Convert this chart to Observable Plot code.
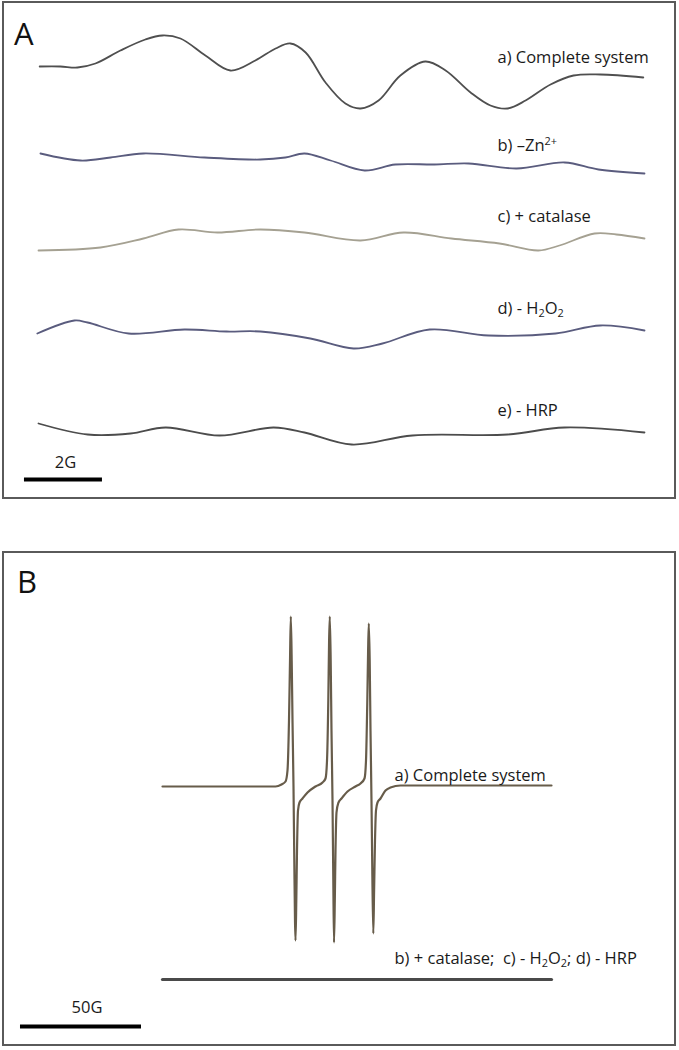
<!DOCTYPE html>
<html><head><meta charset="utf-8">
<script src="https://cdn.jsdelivr.net/npm/d3@7"></script>
<script src="https://cdn.jsdelivr.net/npm/@observablehq/plot@0.6"></script>
<style>
html,body{margin:0;padding:0;background:#fff;}
#page{position:relative;width:679px;height:1050px;}
.panel{position:absolute;left:2px;width:674px;box-sizing:border-box;border:2px solid #5a5a5a;background:#fff;}
.panel svg{display:block;}
</style></head>
<body>
<div id="page">
  <div id="pa" class="panel" style="top:1px;height:498px"></div>
  <div id="pb" class="panel" style="top:551px;height:495px"></div>
</div>
<script>
// ================= DATA =================
// Panel A: EPR traces, field offset (G) and signal (a.u.)
const fieldA_a  = [0.03,0.56,1.0,1.46,2.1,2.74,3.18,3.64,4.28,4.92,5.56,6.08,6.46,6.85,7.36,7.87,8.26,8.72,9.28,9.92,10.44,11.08,11.59,12.03,12.49,13.13,13.72,14.41,15.51];
const signalA_a = [4,4,3,7,20,31,35,32,15,0,10,22,27,18,-12,-33,-38,-30,-5,9,0,-22,-35,-38,-30,-14,-5,-4,-7];
const fieldA_b  = [0.05,1.08,1.85,2.69,4.26,5.69,6.33,6.82,7.49,8.36,9.15,10.15,11.03,12.26,13.49,14.36,15.54];
const signalA_b = [8,1,4,8,4,2,4,8,1,-9,-3,-3,-2,-7,-1,-8,-12];
const fieldA_c  = [0,1.59,2.69,3.59,4.59,5.69,6.82,8.26,9.36,10.59,11.82,12.82,13.36,14.26,14.82,15.54];
const signalA_c = [2,5,14,23,20,23,20,12,20,14,9,2,7,19,18,14];
const fieldA_d  = [-0.03,0.92,1.26,2.31,3.74,4.82,5.69,6.97,8.08,8.82,10.03,11.54,13.26,14.41,15.54];
const signalA_d = [10,23,21,10,14,12,12,5,-5,0,14,8,10,18,13];
const fieldA_e  = [0,1.26,2.36,3.26,4.64,6.03,6.82,8.03,9.59,12.03,13.49,15.54];
const signalA_e = [11,0,1,7,-1,7,2,-10,-1,0,7,2];
const labelsA = ["a) Complete system", "b) \u2013Zn\u00B2\u207A", "c) + catalase", "d) - H\u2082O\u2082", "e) - HRP"];
const scaleBarA = {length: 2, label: "2G"};

// Panel B: wide-scan spectrum, field offset (G) and signal (a.u.)
const fieldB_a  = [0,46.69,49.17,50.83,51.65,52.27,52.69,53.02,53.39,53.72,54.13,54.46,54.75,54.96,55.29,55.58,55.99,56.61,57.85,59.92,63.22,66.12,67.36,67.98,68.51,68.84,69.13,69.50,69.83,70.25,70.58,70.87,71.20,71.49,71.90,72.73,73.97,76.45,79.75,81.82,83.47,84.09,84.63,84.96,85.25,85.62,85.95,86.36,86.69,87.11,87.44,87.81,88.22,88.84,90.08,92.15,94.21,98.35,160.74];
const signalB_a = [0,0,2,5,16,66,126,170,126,66,0,-74,-134,-154,-114,-64,-24,-16,-12,-6,0,4,8,26,86,146,170,126,56,-14,-94,-156,-114,-64,-26,-16,-12,-5,0,3,8,26,86,136,163,126,56,-14,-84,-147,-104,-54,-24,-16,-12,-4,-1,1,1];
const fieldB_b  = [0,160.74];
const signalB_b = [0,0];
const labelsB = ["a) Complete system", "b) + catalase;\u00A0 c) - H\u2082O\u2082;\u00A0d) - HRP"];
const scaleBarB = {length: 50, label: "50G"};

// ================= STYLE / LAYOUT =================
const FONT = "'Open Sans', 'Noto Sans', sans-serif";
const FS = 16.5;
const colorsA = ["#4f4f4f", "#5a5c7e", "#a5a192", "#5a5c7e", "#4c4c4c"];
const colorsB = ["#675c4a", "#4a4a4a"];
const stepA = 91, stepB = 193;

function richify(svg, fs) {
  const map = {"\u2082": ["sub","2"], "\u00B2": ["sup","2"], "\u207A": ["sup","+"]};
  svg.querySelectorAll("text").forEach(t => {
    const s = t.textContent;
    if (![...s].some(c => map[c])) return;
    if (t.querySelector("tspan")) return;
    t.textContent = "";
    t.style.whiteSpace = "pre";
    let shift = 0, run = "", mode = "base";
    const flush = () => {
      if (!run) return;
      const ts = document.createElementNS("http://www.w3.org/2000/svg", "tspan");
      const target = mode === "sub" ? 0.24 * fs : mode === "sup" ? -0.36 * fs : 0;
      const dy = target - shift;
      if (dy) ts.setAttribute("dy", dy);
      if (mode !== "base") ts.setAttribute("font-size", 0.66 * fs);
      shift = target;
      ts.textContent = run;
      t.appendChild(ts);
      run = "";
    };
    for (const ch of s) {
      const m = map[ch] ? map[ch][0] : "base";
      const c = map[ch] ? map[ch][1] : ch;
      if (m !== mode) { flush(); mode = m; }
      run += c;
    }
    flush();
  });
}

function addLetter(svg, letter, x, y) {
  d3.select(svg).append("text").attr("x", x).attr("y", y)
    .attr("text-anchor", "start")
    .attr("font-family", FONT).attr("font-size", 31).attr("fill", "#111").text(letter);
}

// ================= PANEL A =================
{
  const fields = [fieldA_a, fieldA_b, fieldA_c, fieldA_d, fieldA_e];
  const signals = [signalA_a, signalA_b, signalA_c, signalA_d, signalA_e];
  const rows = [];
  const labelRows = [];
  const labelField = 11.77;
  fields.forEach((f, i) => {
    const off = -i * stepA;
    f.forEach((g, j) => rows.push({series: labelsA[i], g, v: signals[i][j] + off}));
    const right = signals[i].filter((v, j) => f[j] >= labelField);
    labelRows.push({label: labelsA[i], g: labelField, v: d3.max(right) + off + 12});
  });
  const barStart = -0.36;
  const bar = [{x1: barStart, x2: barStart + scaleBarA.length, v: -409, label: scaleBarA.label}];

  const svg = Plot.plot({
    width: 670, height: 494,
    marginLeft: 34, marginRight: 30, marginTop: 0, marginBottom: 0,
    x: {domain: [0, 15.54], axis: null},
    y: {domain: [-427, 67], axis: null},
    color: {type: "ordinal", domain: labelsA, range: colorsA},
    marks: [
      Plot.line(rows, {x: "g", y: "v", z: "series", stroke: "series", strokeWidth: 1.8, curve: "catmull-rom"}),
      Plot.text(labelRows, {x: "g", y: "v", text: "label", textAnchor: "start", lineAnchor: "bottom",
        fontSize: FS, fontFamily: FONT, fill: "#1a1a1a"}),
      Plot.ruleY(bar, {y: "v", x1: "x1", x2: "x2", stroke: "#000", strokeWidth: 4}),
      Plot.text(bar, {x: d => (d.x1 + d.x2) / 2, y: "v", text: "label", dy: -12, dx: 2, lineAnchor: "bottom",
        fontSize: FS, fontFamily: FONT, fill: "#1a1a1a"})
    ]
  });
  richify(svg, FS);
  addLetter(svg, "A", 10, 42);
  document.getElementById("pa").appendChild(svg);
}

// ================= PANEL B =================
{
  const fields = [fieldB_a, fieldB_b];
  const signals = [signalB_a, signalB_b];
  const rows = [];
  fields.forEach((f, i) => f.forEach((g, j) => rows.push({series: labelsB[i], g, v: signals[i][j] - i * stepB})));
  const labelField = 95.87;
  const barStart = -58.68;
  const bar = [{x1: barStart, x2: barStart + scaleBarB.length, v: -240, label: scaleBarB.label}];

  const svg = Plot.plot({
    width: 670, height: 491,
    marginLeft: 158, marginRight: 123, marginTop: 0, marginBottom: 0,
    x: {domain: [0, 160.74], axis: null},
    y: {domain: [-258, 233], axis: null},
    color: {type: "ordinal", domain: labelsB, range: colorsB},
    marks: [
      Plot.line(rows.filter(d => d.series === labelsB[0]), {x: "g", y: "v", stroke: "series", strokeWidth: 2.2, curve: "monotone-x"}),
      Plot.line(rows.filter(d => d.series === labelsB[1]), {x: "g", y: "v", stroke: "series", strokeWidth: 3.2}),
      Plot.text([{label: labelsB[0], g: labelField, v: 0}], {x: "g", y: "v", text: "label", dy: -6,
        textAnchor: "start", lineAnchor: "bottom", fontSize: FS, fontFamily: FONT, fill: "#1a1a1a"}),
      Plot.text([{label: labelsB[1], g: labelField, v: -stepB}], {x: "g", y: "v", text: "label", dy: -16,
        textAnchor: "start", lineAnchor: "bottom", fontSize: FS, fontFamily: FONT, fill: "#1a1a1a"}),
      Plot.ruleY(bar, {y: "v", x1: "x1", x2: "x2", stroke: "#000", strokeWidth: 4}),
      Plot.text(bar, {x: d => (d.x1 + d.x2) / 2, y: "v", text: "label", dy: -14, dx: 6, lineAnchor: "bottom",
        fontSize: FS, fontFamily: FONT, fill: "#1a1a1a"})
    ]
  });
  richify(svg, FS);
  addLetter(svg, "B", 13, 40);
  document.getElementById("pb").appendChild(svg);
}
</script>
</body></html>
